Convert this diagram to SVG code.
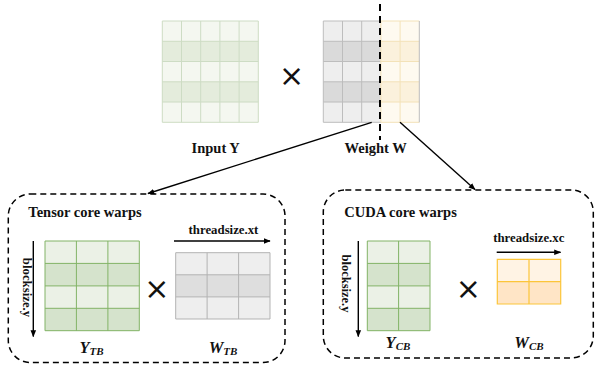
<svg xmlns="http://www.w3.org/2000/svg" width="597" height="366" viewBox="0 0 597 366">
<defs>
<marker id="ah" viewBox="0 0 10 10" refX="9" refY="5" markerWidth="7" markerHeight="7" markerUnits="userSpaceOnUse" orient="auto">
<path d="M0,1 L10,5 L0,9 z" fill="#000"/>
</marker>
<style>
.lbl{font-family:"Liberation Serif","Times New Roman",serif;font-weight:bold;fill:#111;}
.math{font-family:"Liberation Serif","Times New Roman",serif;font-weight:bold;font-style:italic;fill:#111;}
.times{font-family:"DejaVu Sans",sans-serif;font-size:30px;fill:#111;}
.conn{stroke:#000;stroke-width:1.4;fill:none;}
.dash{stroke:#000;stroke-width:1.5;fill:none;stroke-dasharray:6 4;}
.gy{stroke:#cddcc4;stroke-width:1;fill:none;}
.gw{stroke:#bdbdbd;stroke-width:1;fill:none;}
.yw{stroke:#f3e2b8;stroke-width:1;fill:none;}
.gg{stroke:#82b366;stroke-width:1;fill:none;}
.gt{stroke:#b3b3b3;stroke-width:1;fill:none;}
.go{stroke:#fcc53a;stroke-width:1.2;fill:none;}
</style>
</defs>

<g id="input-y">
<rect x="162.3" y="21" width="96" height="101.3" fill="#f4f7f0"/>
<rect x="162.3" y="41.3" width="96" height="20.3" fill="#e4ecdc"/>
<rect x="162.3" y="81.8" width="96" height="20.3" fill="#e4ecdc"/>
<path class="gy" d="M162.3,21 H258.3 V122.3 H162.3 Z M181.5,21 V122.3 M200.7,21 V122.3 M219.9,21 V122.3 M239.1,21 V122.3 M162.3,41.3 H258.3 M162.3,61.5 H258.3 M162.3,81.8 H258.3 M162.3,102 H258.3"/>
<text class="lbl" x="215.7" y="153" font-size="14.5" text-anchor="middle">Input Y</text>
</g>

<text class="times" x="291.5" y="85.5" text-anchor="middle">×</text>

<g id="weight-w">
<rect x="323.3" y="21" width="57.6" height="101.3" fill="#eeeeee"/>
<rect x="323.3" y="41.3" width="57.6" height="20.3" fill="#dadada"/>
<rect x="323.3" y="81.8" width="57.6" height="20.3" fill="#dadada"/>
<rect x="380.9" y="21" width="38.4" height="101.3" fill="#fefaf0"/>
<rect x="380.9" y="41.3" width="38.4" height="20.3" fill="#fbf1dc"/>
<rect x="380.9" y="81.8" width="38.4" height="20.3" fill="#fbf1dc"/>
<path class="yw" d="M380.9,21 H419.3 M400.1,21 V122.3 M380.9,41.3 H419.3 M380.9,61.5 H419.3 M380.9,81.8 H419.3 M380.9,102 H419.3 M380.9,122.3 H419.3"/>
<path class="gw" d="M380.9,21 H323.3 V122.3 H380.9 M342.5,21 V122.3 M361.7,21 V122.3 M323.3,41.3 H380.9 M323.3,61.5 H380.9 M323.3,81.8 H380.9 M323.3,102 H380.9 M419.3,21 V122.3"/>
<path class="yw" d="M380.9,21 V122.3"/>
<text class="lbl" x="375.7" y="153" font-size="14.5" text-anchor="middle">Weight W</text>
</g>

<g id="split-line">
<path d="M380,4 V140" stroke="#000" stroke-width="2" stroke-dasharray="7 5" fill="none"/>
</g>

<g id="connectors">
<path class="conn" d="M371.7,122.3 L148,193.5" marker-end="url(#ah)"/>
<path class="conn" d="M400,122.3 L475,189.5" marker-end="url(#ah)"/>
</g>

<g id="tensor-core-warps">
<rect class="dash" x="8.3" y="194" width="276.7" height="168.5" rx="22" ry="22"/>
<text class="lbl" x="28.3" y="217.3" font-size="14.5">Tensor core warps</text>
<path class="conn" d="M33.3,241 V336.5" marker-end="url(#ah)"/>
<text class="lbl" font-size="12.8" text-anchor="middle" transform="translate(23.3,287.5) rotate(90)">blocksize.y</text>
<g id="y-tb">
<rect x="45" y="241" width="94.3" height="89.7" fill="#ebf1e6"/>
<rect x="45" y="263.4" width="94.3" height="22.4" fill="#d5e3cc"/>
<rect x="45" y="308.3" width="94.3" height="22.4" fill="#d5e3cc"/>
<path class="gg" d="M45,241 H139.3 V330.7 H45 Z M76.4,241 V330.7 M107.9,241 V330.7 M45,263.4 H139.3 M45,285.9 H139.3 M45,308.3 H139.3"/>
<text class="math" x="91.5" y="353.3" font-size="16.5" text-anchor="middle">Y<tspan font-size="11" dy="2">TB</tspan></text>
</g>
<text class="times" x="156.7" y="298.8" text-anchor="middle">×</text>
<path class="conn" d="M174,241 H270" marker-end="url(#ah)"/>
<text class="lbl" x="223.5" y="234" font-size="12.8" text-anchor="middle">threadsize.xt</text>
<g id="w-tb">
<rect x="175.7" y="252.7" width="94.3" height="66.3" fill="#eeeeee"/>
<rect x="175.7" y="274.8" width="94.3" height="22.1" fill="#dedede"/>
<path class="gt" d="M175.7,252.7 H270 V319 H175.7 Z M207.1,252.7 V319 M238.6,252.7 V319 M175.7,274.8 H270 M175.7,296.9 H270"/>
<text class="math" x="223" y="353.3" font-size="16.5" text-anchor="middle">W<tspan font-size="11" dy="2">TB</tspan></text>
</g>
</g>

<g id="cuda-core-warps">
<rect class="dash" x="323.3" y="190" width="270" height="168" rx="22" ry="22"/>
<text class="lbl" x="344.3" y="217.3" font-size="14.5">CUDA core warps</text>
<path class="conn" d="M358.3,241 V336.5" marker-end="url(#ah)"/>
<text class="lbl" font-size="12.5" text-anchor="middle" transform="translate(342.3,283.5) rotate(90)">blocksize.y</text>
<g id="y-cb">
<rect x="367.3" y="241" width="62.7" height="89.7" fill="#ebf1e6"/>
<rect x="367.3" y="263.4" width="62.7" height="22.4" fill="#d5e3cc"/>
<rect x="367.3" y="308.3" width="62.7" height="22.4" fill="#d5e3cc"/>
<path class="gg" d="M367.3,241 H430 V330.7 H367.3 Z M398.6,241 V330.7 M367.3,263.4 H430 M367.3,285.9 H430 M367.3,308.3 H430"/>
<text class="math" x="398" y="348.3" font-size="16.5" text-anchor="middle">Y<tspan font-size="11" dy="2">CB</tspan></text>
</g>
<text class="times" x="468.3" y="298.8" text-anchor="middle">×</text>
<path class="conn" d="M496.7,252.3 H560.5" marker-end="url(#ah)"/>
<text class="lbl" x="528.8" y="241.7" font-size="12.8" text-anchor="middle">threadsize.xc</text>
<g id="w-cb">
<rect x="497.3" y="259.3" width="63.4" height="22.4" fill="#fff3e4"/>
<rect x="497.3" y="281.7" width="63.4" height="22.3" fill="#ffe5c6"/>
<path class="go" d="M497.3,259.3 H560.7 V304 H497.3 Z M529,259.3 V304 M497.3,281.7 H560.7"/>
<text class="math" x="529" y="348.3" font-size="16.5" text-anchor="middle">W<tspan font-size="11" dy="2">CB</tspan></text>
</g>
</g>
</svg>
